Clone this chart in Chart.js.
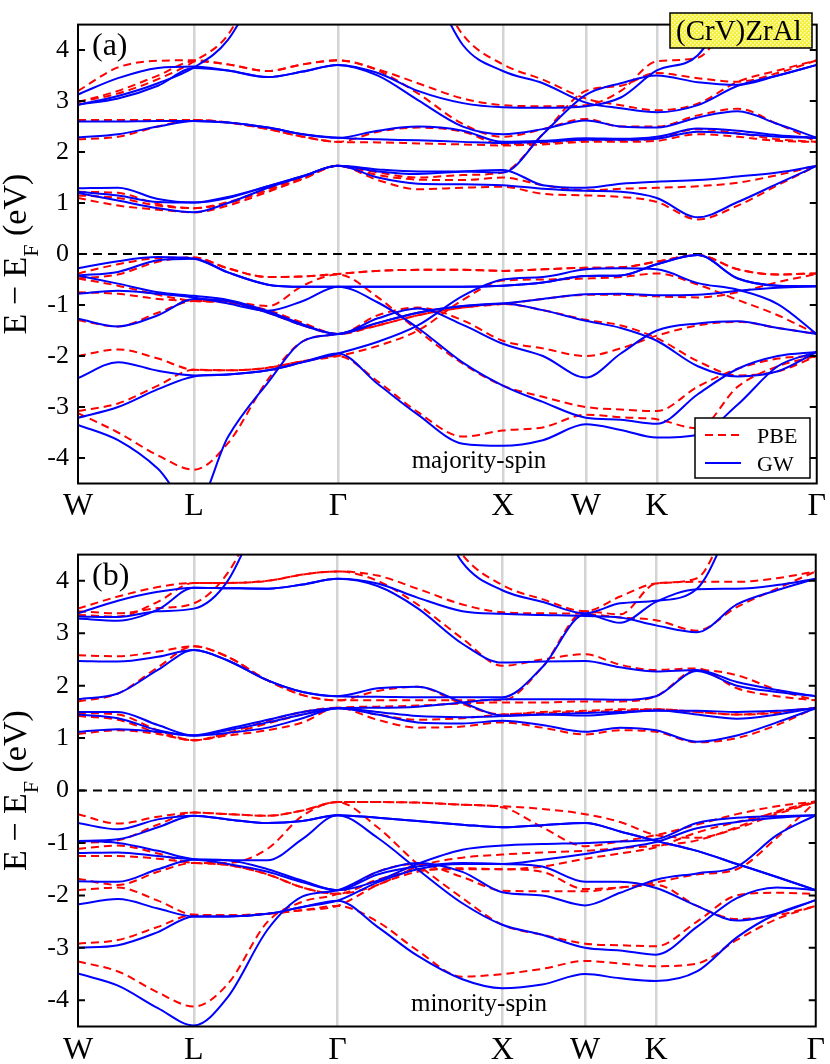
<!DOCTYPE html>
<html>
<head>
<meta charset="utf-8">
<script src="https://cdn.jsdelivr.net/npm/chart.js@4.4.0/dist/chart.umd.min.js"></script>
<style>
  body { margin: 0; background: #fff; }
  canvas { display: block; }
</style>
</head>
<body>
<canvas id="upChart" width="830" height="530"></canvas>
<canvas id="dnChart" width="830" height="534"></canvas>
<script>
// k-path (distance along the path) and high-symmetry points
const kGrid = [0, 40, 80, 116, 150, 190, 225, 260, 300, 340, 385, 425, 465, 508, 543, 579, 620, 660, 700, 739];
const kPoints = [0, 116, 260, 425, 508, 579, 739];
const kLabels = ["W", "L", "Γ", "X", "W", "K", "Γ"];
const yTicks = [-4, -3, -2, -1, 0, 1, 2, 3, 4];
const fermiLevel = 0;
const seriesNames = ["PBE", "GW"];

// majority spin, GW (eV), one row per band on kGrid
const upGW = [
  [3.13, 3.45, 3.65, 3.68, 3.6, 3.47, 3.58, 3.71, 3.55, 3.2, 2.96, 2.88, 2.87, 2.9, 3.07, 3.6, 3.9, 5.2, 6.5, 7.5],
  [2.93, 3.05, 3.3, 3.65, 3.6, 3.47, 3.58, 3.71, 3.5, 3.02, 2.5, 2.35, 2.45, 2.62, 2.5, 2.48, 2.68, 2.8, 2.55, 2.28],
  [2.93, 3.1, 3.35, 3.66, 4.2, 5.6, 6.8, 7.2, 6.8, 5.8, 4.1, 3.59, 3.35, 2.97, 2.86, 2.78, 2.92, 3.3, 3.5, 3.71],
  [2.6, 2.6, 2.61, 2.61, 2.58, 2.48, 2.35, 2.28, 2.42, 2.5, 2.42, 2.2, 2.22, 2.27, 2.26, 2.3, 2.46, 2.42, 2.33, 2.28],
  [2.29, 2.35, 2.5, 2.61, 2.58, 2.48, 2.35, 2.28, 2.25, 2.23, 2.2, 2.18, 2.2, 2.24, 2.24, 2.26, 2.4, 2.36, 2.3, 2.28],
  [1.29, 1.3, 1.08, 1.01, 1.12, 1.33, 1.53, 1.73, 1.62, 1.57, 1.62, 1.65, 1.35, 1.3, 1.38, 1.42, 1.45, 1.52, 1.6, 1.73],
  [1.2, 1.05, 0.9, 0.82, 1.0, 1.3, 1.52, 1.73, 1.5, 1.38, 1.37, 1.35, 1.28, 1.24, 1.22, 1.1, 0.72, 1.02, 1.38, 1.73],
  [1.22, 1.15, 1.02, 1.01, 1.1, 1.33, 1.53, 1.73, 1.66, 1.62, 1.62, 1.6, 2.35, 3.12, 3.35, 3.5, 3.37, 3.32, 3.5, 3.71],
  [-0.28, -0.14, -0.06, -0.09, -0.36, -0.6, -0.64, -0.64, -0.64, -0.64, -0.64, -0.62, -0.56, -0.43, -0.42, -0.2, -0.02, -0.48, -0.62, -0.63],
  [-0.42, -0.35, -0.12, -0.09, -0.36, -0.6, -0.64, -0.64, -0.64, -0.64, -0.64, -0.62, -0.56, -0.43, -0.42, -0.2, -0.02, -0.48, -0.62, -0.63],
  [-0.78, -0.72, -0.78, -0.85, -0.97, -1.11, -0.92, -0.64, -0.95, -1.45, -2.13, -2.58, -2.9, -3.21, -3.25, -3.33, -2.75, -2.25, -2.0, -1.92],
  [-0.42, -0.58, -0.75, -0.82, -0.9, -1.12, -1.38, -1.57, -1.35, -1.15, -1.02, -0.97, -0.88, -0.79, -0.78, -0.81, -0.8, -0.72, -0.66, -0.63],
  [-1.27, -1.42, -1.2, -0.88, -0.92, -1.15, -1.4, -1.57, -1.26, -1.07, -1.39, -1.76, -2.0, -2.42, -1.95, -1.5, -1.36, -1.32, -1.45, -1.57],
  [-3.35, -3.65, -4.21, -5.0, -3.59, -2.52, -1.71, -1.57, -1.35, -1.15, -1.02, -0.97, -1.1, -1.31, -1.45, -1.7, -2.2, -2.4, -2.3, -1.92],
  [-2.43, -2.12, -2.29, -2.38, -2.36, -2.28, -2.12, -1.95, -1.72, -1.4, -0.82, -0.5, -0.45, -0.3, -0.28, -0.3, -0.57, -0.7, -0.98, -1.57],
  [-3.21, -3.0, -2.65, -2.4, -2.36, -2.28, -2.12, -1.95, -2.55, -3.15, -3.72, -3.76, -3.65, -3.34, -3.45, -3.6, -3.55, -2.95, -2.2, -1.92]
];

// majority spin, PBE (eV)
const upPBE = [
  [3.2, 3.66, 3.79, 3.8, 3.72, 3.59, 3.72, 3.8, 3.62, 3.35, 3.05, 2.92, 2.9, 2.92, 3.2, 3.78, 3.85, 5.0, 6.5, 7.5],
  [2.98, 3.2, 3.5, 3.78, 3.72, 3.59, 3.72, 3.8, 3.6, 3.15, 2.55, 2.3, 2.45, 2.65, 2.5, 2.5, 2.72, 2.85, 2.55, 2.2],
  [2.98, 3.15, 3.43, 3.78, 4.3, 5.8, 6.8, 7.2, 6.8, 5.9, 4.3, 3.72, 3.42, 3.05, 2.92, 2.82, 2.95, 3.38, 3.6, 3.8],
  [2.63, 2.63, 2.63, 2.63, 2.58, 2.45, 2.3, 2.2, 2.4, 2.48, 2.4, 2.15, 2.18, 2.23, 2.23, 2.27, 2.45, 2.37, 2.25, 2.2],
  [2.25, 2.3, 2.5, 2.63, 2.58, 2.45, 2.3, 2.2, 2.19, 2.17, 2.15, 2.13, 2.15, 2.2, 2.2, 2.22, 2.35, 2.3, 2.22, 2.2],
  [1.22, 1.2, 0.98, 0.9, 1.02, 1.28, 1.5, 1.73, 1.55, 1.46, 1.45, 1.5, 1.35, 1.25, 1.28, 1.3, 1.33, 1.4, 1.55, 1.73],
  [1.1, 0.95, 0.87, 0.82, 0.95, 1.22, 1.47, 1.73, 1.45, 1.27, 1.3, 1.32, 1.18, 1.15, 1.12, 1.02, 0.68, 0.95, 1.35, 1.73],
  [1.15, 1.1, 0.95, 0.9, 1.0, 1.25, 1.48, 1.73, 1.6, 1.5, 1.55, 1.6, 2.35, 3.2, 3.3, 3.55, 3.45, 3.38, 3.55, 3.8],
  [-0.38, -0.2, -0.08, -0.07, -0.28, -0.45, -0.44, -0.39, -0.33, -0.31, -0.31, -0.33, -0.3, -0.27, -0.26, -0.15, -0.02, -0.3, -0.4, -0.38],
  [-0.48, -0.4, -0.15, -0.07, -0.28, -0.45, -0.44, -0.39, -0.33, -0.31, -0.31, -0.33, -0.3, -0.27, -0.26, -0.15, -0.02, -0.3, -0.4, -0.38],
  [-0.75, -0.78, -0.88, -0.92, -0.93, -1.02, -0.62, -0.4, -0.85, -1.5, -2.15, -2.58, -2.8, -3.0, -3.05, -3.08, -2.6, -2.25, -2.05, -2.0],
  [-0.48, -0.62, -0.8, -0.92, -0.95, -1.1, -1.35, -1.57, -1.4, -1.2, -1.05, -0.98, -0.88, -0.8, -0.8, -0.83, -0.85, -0.75, -0.55, -0.39],
  [-1.3, -1.42, -1.15, -0.92, -0.95, -1.15, -1.4, -1.57, -1.2, -1.05, -1.3, -1.7, -1.85, -2.0, -1.85, -1.6, -1.4, -1.33, -1.45, -1.57],
  [-3.12, -3.5, -3.95, -4.23, -3.71, -2.46, -1.71, -1.57, -1.4, -1.2, -1.05, -0.98, -1.1, -1.29, -1.4, -1.65, -2.1, -2.38, -2.3, -2.0],
  [-2.0, -1.87, -2.05, -2.27, -2.28, -2.23, -2.1, -2.0, -1.8, -1.5, -0.9, -0.52, -0.5, -0.48, -0.45, -0.38, -0.6, -0.9, -1.2, -1.57],
  [-3.08, -2.93, -2.58, -2.27, -2.28, -2.23, -2.1, -2.0, -2.5, -3.1, -3.58, -3.46, -3.4, -3.15, -3.2, -3.24, -3.42, -2.6, -2.2, -2.0]
];

// minority spin, GW (eV)
const dnGW = [
  [3.38, 3.62, 3.79, 3.87, 3.86, 3.85, 3.93, 4.04, 3.95, 3.68, 3.42, 3.37, 3.35, 3.33, 3.3, 3.15, 3.02, 3.55, 3.82, 4.04],
  [3.28, 3.24, 3.45, 3.87, 3.86, 3.85, 3.93, 4.04, 3.9, 3.48, 2.8, 2.44, 2.46, 2.47, 2.35, 2.27, 2.3, 2.07, 1.92, 1.8],
  [3.32, 3.31, 3.42, 3.47, 4.0, 5.6, 6.8, 7.2, 6.8, 6.0, 4.35, 3.82, 3.6, 3.38, 3.57, 3.62, 3.85, 5.3, 6.5, 7.2],
  [2.47, 2.46, 2.55, 2.68, 2.48, 2.1, 1.88, 1.8, 1.95, 1.98, 1.68, 1.43, 1.45, 1.43, 1.48, 1.53, 1.45, 1.37, 1.45, 1.58],
  [1.74, 1.85, 2.3, 2.68, 2.48, 2.1, 1.88, 1.8, 1.79, 1.78, 1.78, 1.78, 2.35, 3.36, 3.2, 3.6, 3.84, 3.85, 3.92, 4.04],
  [1.5, 1.5, 1.25, 1.05, 1.18, 1.35, 1.5, 1.57, 1.5, 1.42, 1.4, 1.42, 1.45, 1.48, 1.5, 1.52, 1.52, 1.5, 1.52, 1.57],
  [1.45, 1.38, 1.15, 1.05, 1.1, 1.2, 1.38, 1.57, 1.45, 1.3, 1.28, 1.33, 1.25, 1.12, 1.2, 1.15, 0.93, 1.05, 1.3, 1.57],
  [1.12, 1.17, 1.12, 1.05, 1.15, 1.3, 1.45, 1.57, 1.58, 1.6, 1.68, 1.74, 1.74, 1.74, 1.73, 1.8, 2.28, 2.0, 1.88, 1.8],
  [-0.62, -0.74, -0.55, -0.48, -0.55, -0.62, -0.58, -0.47, -0.52, -0.58, -0.65, -0.7, -0.66, -0.62, -0.78, -0.96, -1.15, -1.4, -1.65, -1.9],
  [-0.96, -0.93, -0.7, -0.48, -0.55, -0.62, -0.58, -0.47, -0.52, -0.58, -0.65, -0.7, -0.66, -0.62, -0.78, -0.96, -1.15, -1.4, -1.65, -1.9],
  [-0.96, -1.0, -1.15, -1.31, -1.33, -1.33, -0.92, -0.47, -0.9, -1.5, -2.15, -2.56, -2.75, -3.0, -3.05, -3.13, -2.6, -2.05, -1.85, -1.9],
  [-1.19, -1.18, -1.25, -1.31, -1.33, -1.5, -1.72, -1.9, -1.72, -1.4, -1.13, -1.05, -1.02, -1.0, -0.97, -0.93, -0.62, -0.52, -0.49, -0.47],
  [-1.73, -1.74, -1.5, -1.32, -1.4, -1.55, -1.75, -1.9, -1.6, -1.45, -1.38, -1.4, -1.45, -1.74, -1.74, -1.86, -2.2, -2.48, -2.35, -2.09],
  [-3.49, -3.72, -4.15, -4.48, -3.94, -2.65, -2.02, -1.9, -1.55, -1.38, -1.55, -1.94, -2.0, -2.19, -1.95, -1.7, -1.58, -1.45, -0.85, -0.47],
  [-2.17, -2.07, -2.25, -2.4, -2.4, -2.35, -2.22, -2.1, -2.6, -3.15, -3.6, -3.77, -3.7, -3.5, -3.58, -3.63, -3.45, -2.8, -2.35, -2.09],
  [-3.0, -2.95, -2.7, -2.4, -2.4, -2.35, -2.22, -2.1, -1.75, -1.5, -1.4, -1.4, -1.32, -1.21, -1.1, -0.98, -0.72, -0.6, -0.52, -0.47]
];

// minority spin, PBE (eV)
const dnPBE = [
  [3.47, 3.7, 3.88, 3.96, 3.96, 4.0, 4.12, 4.18, 4.1, 3.85, 3.55, 3.4, 3.38, 3.37, 3.3, 3.25, 3.05, 3.5, 3.85, 4.18],
  [3.35, 3.32, 3.6, 3.96, 3.96, 4.0, 4.12, 4.18, 4.0, 3.55, 2.9, 2.38, 2.5, 2.6, 2.4, 2.3, 2.33, 1.95, 1.8, 1.72],
  [3.42, 3.38, 3.48, 3.57, 4.15, 5.6, 6.8, 7.2, 6.8, 6.0, 4.5, 3.92, 3.65, 3.42, 3.7, 3.95, 4.05, 5.5, 6.5, 7.2],
  [2.58, 2.56, 2.65, 2.75, 2.55, 2.1, 1.82, 1.72, 1.9, 1.98, 1.65, 1.45, 1.5, 1.52, 1.55, 1.55, 1.5, 1.45, 1.48, 1.58],
  [1.7, 1.85, 2.35, 2.75, 2.55, 2.1, 1.82, 1.72, 1.72, 1.72, 1.72, 1.72, 2.35, 3.42, 3.36, 3.95, 3.98, 3.98, 4.05, 4.18],
  [1.48, 1.45, 1.15, 0.96, 1.1, 1.33, 1.5, 1.58, 1.45, 1.35, 1.38, 1.45, 1.48, 1.5, 1.52, 1.55, 1.5, 1.45, 1.5, 1.58],
  [1.42, 1.35, 1.1, 0.96, 1.05, 1.15, 1.3, 1.58, 1.35, 1.2, 1.22, 1.3, 1.2, 1.07, 1.15, 1.12, 0.92, 1.0, 1.25, 1.58],
  [1.08, 1.15, 1.08, 0.96, 1.08, 1.28, 1.45, 1.58, 1.6, 1.62, 1.66, 1.68, 1.68, 1.7, 1.7, 1.8, 2.3, 2.2, 1.92, 1.72],
  [-0.45, -0.63, -0.5, -0.42, -0.45, -0.48, -0.38, -0.22, -0.22, -0.23, -0.27, -0.3, -0.35, -0.45, -0.6, -0.85, -0.9, -0.72, -0.45, -0.22],
  [-1.0, -0.95, -0.65, -0.42, -0.45, -0.48, -0.38, -0.22, -0.22, -0.23, -0.27, -0.32, -0.7, -1.06, -0.97, -0.85, -0.65, -0.45, -0.3, -0.21],
  [-1.11, -1.05, -1.2, -1.38, -1.38, -1.11, -0.48, -0.22, -0.7, -1.4, -2.05, -2.56, -2.75, -2.92, -2.95, -2.97, -2.5, -2.0, -1.95, -1.97],
  [-1.25, -1.25, -1.3, -1.38, -1.42, -1.6, -1.85, -1.97, -1.8, -1.45, -1.28, -1.22, -1.18, -1.15, -1.1, -1.05, -0.95, -0.7, -0.4, -0.21],
  [-1.68, -1.8, -1.55, -1.38, -1.42, -1.6, -1.85, -1.97, -1.7, -1.52, -1.5, -1.5, -1.55, -1.88, -1.85, -1.8, -2.2, -2.45, -2.38, -2.2],
  [-3.26, -3.45, -3.85, -4.12, -3.69, -2.5, -2.12, -1.97, -1.55, -1.4, -1.65, -1.91, -1.92, -1.92, -1.85, -1.75, -1.6, -1.5, -0.9, -0.21],
  [-1.9, -1.85, -2.1, -2.37, -2.38, -2.35, -2.28, -2.2, -2.5, -3.05, -3.55, -3.5, -3.4, -3.25, -3.3, -3.35, -3.3, -2.85, -2.45, -2.2],
  [-2.92, -2.85, -2.6, -2.37, -2.38, -2.35, -2.28, -2.2, -1.8, -1.55, -1.48, -1.5, -1.45, -1.3, -1.2, -1.08, -0.8, -0.6, -0.42, -0.21]
];

const SERIF = '"Liberation Serif", "DejaVu Serif", serif';
const RED = '#ff0000';
const BLUE = '#0000ff';
const PBE_DASH = [8, 5];

function bandSets(bands, color, dash, order) {
  return bands.map(b => ({
    data: kGrid.map((k, i) => ({ x: k, y: b[i] })),
    borderColor: color,
    borderWidth: 2,
    borderDash: dash,
    pointRadius: 0,
    fill: false,
    cubicInterpolationMode: 'monotone',
    order: order
  }));
}

function fermiSet() {
  return {
    data: [{ x: kGrid[0], y: fermiLevel }, { x: kGrid[kGrid.length - 1], y: fermiLevel }],
    borderColor: '#000',
    borderWidth: 2,
    borderDash: [9, 6],
    pointRadius: 0,
    order: 3
  };
}

// frame, inward ticks, axis title with subscript and in-plot labels
const decor = {
  id: 'decor',
  afterDraw(chart, args, o) {
    const { ctx, chartArea: a, scales: { y } } = chart;
    ctx.save();
    ctx.strokeStyle = '#000';
    ctx.lineWidth = 2;
    yTicks.forEach(v => {
      const py = y.getPixelForValue(v);
      ctx.beginPath();
      ctx.moveTo(a.left, py); ctx.lineTo(a.left + 7, py);
      ctx.moveTo(a.right, py); ctx.lineTo(a.right - 7, py);
      ctx.stroke();
    });
    ctx.strokeRect(a.left, a.top, a.right - a.left, a.bottom - a.top);

    ctx.fillStyle = '#000';
    ctx.textBaseline = 'alphabetic';

    // y title: E − E_F (eV)
    const big = '34px ' + SERIF, small = '22px ' + SERIF;
    ctx.font = big;
    const w1 = ctx.measureText('E − E').width;
    const w3 = ctx.measureText(' (eV)').width;
    ctx.font = small;
    const w2 = ctx.measureText('F').width;
    const total = w1 + w2 + w3;
    ctx.save();
    ctx.translate(26, (a.top + a.bottom) / 2);
    ctx.rotate(-Math.PI / 2);
    ctx.textAlign = 'left';
    ctx.font = big;
    ctx.fillText('E − E', -total / 2, 0);
    ctx.font = small;
    ctx.fillText('F', -total / 2 + w1, 12);
    ctx.font = big;
    ctx.fillText(' (eV)', -total / 2 + w1 + w2, 0);
    ctx.restore();

    // panel tag
    ctx.textAlign = 'left';
    ctx.font = '32px ' + SERIF;
    ctx.fillText(o.tag, a.left + 14, a.top + 30);

    // spin label
    ctx.textAlign = 'center';
    ctx.font = '25px ' + SERIF;
    ctx.fillText(o.spin, 479, a.bottom - 16);

    if (o.legend) {
      // material box
      const pat = document.createElement('canvas');
      pat.width = 4; pat.height = 4;
      const pc = pat.getContext('2d');
      pc.fillStyle = '#f4f03a';
      pc.fillRect(0, 0, 4, 4);
      pc.fillStyle = '#fdfbc4';
      pc.fillRect(0, 0, 1.5, 1.5);
      pc.fillRect(2, 2, 1.5, 1.5);
      ctx.fillStyle = ctx.createPattern(pat, 'repeat');
      ctx.fillRect(670, 13, 142, 35);
      ctx.lineWidth = 1.5;
      ctx.strokeRect(670, 13, 142, 35);
      ctx.fillStyle = '#000';
      ctx.textAlign = 'left';
      ctx.font = '29px ' + SERIF;
      ctx.fillText('(CrV)ZrAl', 676, 40);

      // legend
      ctx.fillStyle = '#fff';
      ctx.fillRect(695, 418, 115, 60);
      ctx.strokeStyle = '#000';
      ctx.lineWidth = 1.5;
      ctx.strokeRect(695, 418, 115, 60);
      ctx.lineWidth = 2;
      ctx.strokeStyle = RED;
      ctx.setLineDash(PBE_DASH);
      ctx.beginPath(); ctx.moveTo(705, 435); ctx.lineTo(741, 435); ctx.stroke();
      ctx.setLineDash([]);
      ctx.strokeStyle = BLUE;
      ctx.beginPath(); ctx.moveTo(705, 463); ctx.lineTo(741, 463); ctx.stroke();
      ctx.fillStyle = '#000';
      ctx.font = '22px ' + SERIF;
      ctx.fillText(seriesNames[0], 757, 443);
      ctx.fillText(seriesNames[1], 757, 471);
    }
    ctx.restore();
  }
};

function makeChart(id, gw, pbe, padTop, xHeight, labelPad, decorOpts) {
  return new Chart(document.getElementById(id), {
    type: 'line',
    data: {
      datasets: [fermiSet()]
        .concat(bandSets(pbe, RED, PBE_DASH, 2))
        .concat(bandSets(gw, BLUE, [], 1))
    },
    options: {
      responsive: false,
      animation: false,
      events: [],
      layout: { padding: { top: padTop, right: 13, left: 0, bottom: 0 } },
      plugins: {
        legend: { display: false },
        tooltip: { enabled: false },
        decor: decorOpts
      },
      scales: {
        x: {
          type: 'linear',
          min: kGrid[0],
          max: kGrid[kGrid.length - 1],
          afterBuildTicks: s => { s.ticks = kPoints.map(v => ({ value: v })); },
          afterFit: s => { s.height = xHeight; },
          ticks: {
            autoSkip: false,
            maxRotation: 0,
            padding: labelPad,
            color: '#000',
            font: { family: SERIF, size: 32 },
            callback: (v, i) => kLabels[i]
          },
          grid: {
            drawTicks: false,
            lineWidth: 2.5,
            color: c => (c.index === 0 || c.index === kPoints.length - 1) ? 'rgba(0,0,0,0)' : '#d4d4d4'
          },
          border: { display: false }
        },
        y: {
          min: -4.5,
          max: 4.5,
          afterBuildTicks: s => { s.ticks = yTicks.map(v => ({ value: v })); },
          afterFit: s => { s.width = 78; },
          ticks: {
            padding: 9,
            color: '#000',
            font: { family: SERIF, size: 26 },
            callback: v => String(v)
          },
          grid: { display: false, drawTicks: false },
          border: { display: false }
        }
      }
    },
    plugins: [decor]
  });
}

makeChart('upChart', upGW, upPBE, 5, 46.5, 4, { tag: '(a)', spin: 'majority-spin', legend: true });
makeChart('dnChart', dnGW, dnPBE, 19, 37.5, 5, { tag: '(b)', spin: 'minority-spin', legend: false });
</script>
</body>
</html>
